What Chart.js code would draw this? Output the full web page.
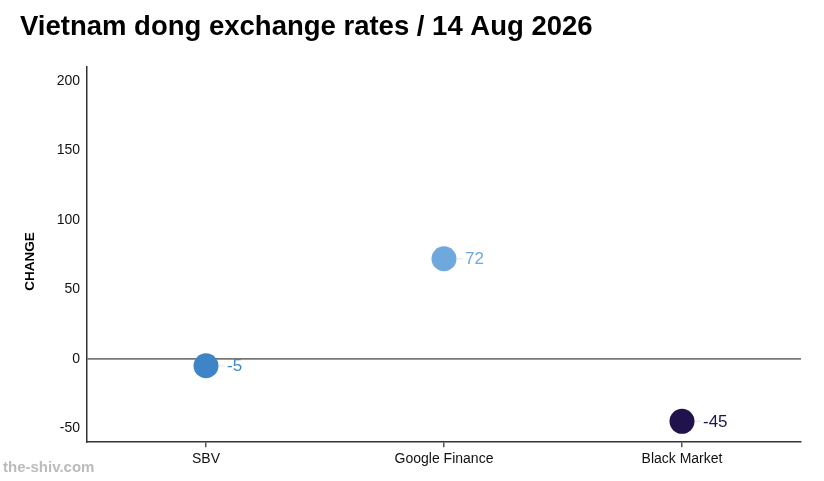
<!DOCTYPE html>
<html lang="en">
<head>
    <meta charset="UTF-8">
    <title>Vietnam dong exchange rates</title>
    <style>
        body {
            margin: 0;
            background: #fff;
            font-family: "Liberation Sans", Arial, sans-serif;
        }
        #chartContainer {
            position: relative;
            width: 824px;
            height: 481px;
        }
        #watermark {
            position: absolute;
            left: 3px;
            top: 458px;
            font-size: 15px;
            font-weight: bold;
            color: #bbbbbb;
        }
    </style>
</head>
<body>
    <div id="chartContainer">
        <canvas id="rateChart"></canvas>
        <div id="watermark">the-shiv.com</div>
    </div>

    <script src="https://cdn.jsdelivr.net/npm/chart.js"></script>
    <script>
        // Data
        const sources = ['SBV', 'Google Finance', 'Black Market'];
        const changes = [-5, 72, -45];
        const pointColors = ['#3d85c6', '#6fa8dc', '#20124d'];
        const yTicks = [-50, 0, 50, 100, 150, 200];
        const yTitle = 'CHANGE';

        // Value labels to the right of each point, plus the y axis title
        const valueLabels = {
            id: 'valueLabels',
            afterDatasetsDraw(chart) {
                const ctx = chart.ctx;
                const meta = chart.getDatasetMeta(0);
                ctx.save();
                ctx.font = '17px "Liberation Sans", Arial, sans-serif';
                ctx.textBaseline = 'middle';
                ctx.textAlign = 'left';
                meta.data.forEach((pt, i) => {
                    ctx.strokeStyle = '#e6e6e6';
                    ctx.lineWidth = 1;
                    ctx.beginPath();
                    ctx.moveTo(pt.x + 13, pt.y);
                    ctx.lineTo(pt.x + 19, pt.y);
                    ctx.stroke();
                    ctx.fillStyle = pointColors[i];
                    ctx.fillText(String(changes[i]), pt.x + 21, pt.y + 1);
                });

                // axis title, sits a little below the middle like the original
                const area = chart.chartArea;
                ctx.translate(30, (area.top + area.bottom) / 2 + 7);
                ctx.rotate(-Math.PI / 2);
                ctx.textAlign = 'center';
                ctx.fillStyle = '#000';
                ctx.font = 'bold 13.5px "Liberation Sans", Arial, sans-serif';
                ctx.fillText(yTitle, 0, 0);
                ctx.restore();
            }
        };

        const ctx = document.getElementById('rateChart').getContext('2d');
        const chart = new Chart(ctx, {
            type: 'line',
            data: {
                labels: sources,
                datasets: [{
                    data: changes,
                    showLine: false,
                    pointRadius: 12.5,
                    pointHoverRadius: 12.5,
                    pointBackgroundColor: pointColors,
                    pointBorderColor: pointColors,
                    pointBorderWidth: 0
                }]
            },
            options: {
                responsive: true,
                maintainAspectRatio: false,
                animation: false,
                layout: {
                    padding: { left: 20, right: 23, top: 0, bottom: 9 }
                },
                plugins: {
                    legend: { display: false },
                    tooltip: { enabled: false },
                    title: {
                        display: true,
                        text: 'Vietnam dong exchange rates / 14 Aug 2026',
                        align: 'start',
                        color: '#000',
                        font: { family: '"Liberation Sans", Arial, sans-serif', size: 27.5, weight: 'bold' },
                        padding: { top: 11, bottom: 23 }
                    }
                },
                scales: {
                    x: {
                        offset: true,
                        grid: {
                            display: true,
                            drawOnChartArea: false,
                            drawTicks: true,
                            tickLength: 5,
                            color: '#555',
                            lineWidth: 1.5
                        },
                        border: { display: true, color: '#333', width: 1.5 },
                        ticks: {
                            color: '#111',
                            padding: 4,
                            font: { family: '"Liberation Sans", Arial, sans-serif', size: 14 }
                        }
                    },
                    y: {
                        min: -60,
                        max: 210,
                        afterBuildTicks: scale => {
                            scale.ticks = yTicks.map(v => ({ value: v }));
                        },
                        afterFit: scale => {
                            scale.width = 67;
                        },
                        grid: {
                            display: true,
                            drawTicks: false,
                            color: c => c.tick && c.tick.value === 0 ? '#777' : 'rgba(0,0,0,0)',
                            lineWidth: 1.8
                        },
                        border: { display: true, color: '#333', width: 1.5 },
                        ticks: {
                            color: '#111',
                            padding: 7,
                            font: { family: '"Liberation Sans", Arial, sans-serif', size: 14 }
                        }
                    }
                }
            },
            plugins: [valueLabels]
        });
    </script>
</body>
</html>
